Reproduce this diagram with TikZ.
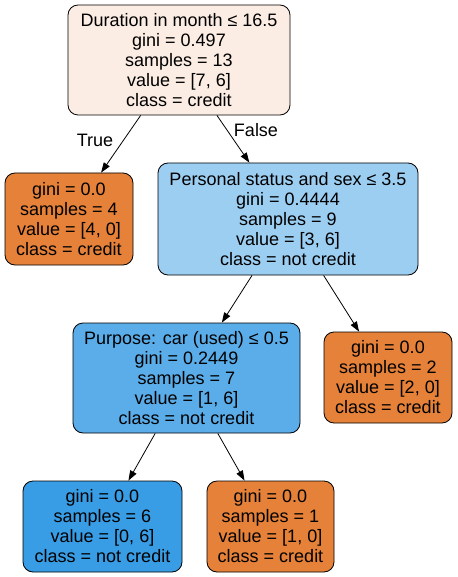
\documentclass[tikz,border=0pt]{standalone}
\usepackage{fontspec}
\setmainfont{Liberation Sans}
\usetikzlibrary{arrows.meta}
\definecolor{rootc}{HTML}{FBEDE3}
\definecolor{orangec}{HTML}{E58139}
\definecolor{lblue}{HTML}{9CCEF2}
\definecolor{mblue}{HTML}{5AADE9}
\definecolor{dblue}{HTML}{399DE5}
\tikzset{
  tree/.style={draw=black, rounded corners=10pt, align=center, inner sep=0pt,
    font=\fontsize{18}{20}\selectfont, line width=0.8pt},
  edge/.style={draw=black, line width=0.8pt, -{Triangle[length=10pt,width=7pt]}},
  elabel/.style={font=\fontsize{18}{20}\selectfont, inner sep=0pt}
}
\begin{document}
\begin{tikzpicture}[x=1pt,y=-1pt]
\useasboundingbox (0,0) rectangle (457,577);
\node[tree, fill=rootc, minimum width=222pt, minimum height=110pt] (root) at (179,60)
  {Duration in month ≤ 16.5\\gini = 0.497\\samples = 13\\value = [7, 6]\\class = credit};
\node[tree, fill=orangec, minimum width=128pt, minimum height=92pt] (l1) at (69,219)
  {gini = 0.0\\samples = 4\\value = [4, 0]\\class = credit};
\node[tree, fill=lblue, minimum width=260pt, minimum height=112pt] (ps) at (288,219)
  {Personal status and sex ≤ 3.5\\gini = 0.4444\\samples = 9\\value = [3, 6]\\class = not credit};
\node[tree, fill=mblue, minimum width=227pt, minimum height=110pt] (pu) at (186.5,378)
  {Purpose: car (used) ≤ 0.5\\gini = 0.2449\\samples = 7\\value = [1, 6]\\class = not credit};
\node[tree, fill=orangec, minimum width=128pt, minimum height=91pt] (r2) at (388,377.5)
  {gini = 0.0\\samples = 2\\value = [2, 0]\\class = credit};
\node[tree, fill=dblue, minimum width=159pt, minimum height=91pt] (bl) at (102.5,526.5)
  {gini = 0.0\\samples = 6\\value = [0, 6]\\class = not credit};
\node[tree, fill=orangec, minimum width=127pt, minimum height=91pt] (br) at (270.5,526.5)
  {gini = 0.0\\samples = 1\\value = [1, 0]\\class = credit};
\draw[edge] (root) -- (l1);
\draw[edge] (root) -- (ps);
\draw[edge] (ps) -- (pu);
\draw[edge] (ps) -- (r2);
\draw[edge] (pu) -- (bl);
\draw[edge] (pu) -- (br);
\node[elabel] (t) at (95,140) {True};
\node[elabel] (f) at (256,130) {False};
\end{tikzpicture}
\end{document}
